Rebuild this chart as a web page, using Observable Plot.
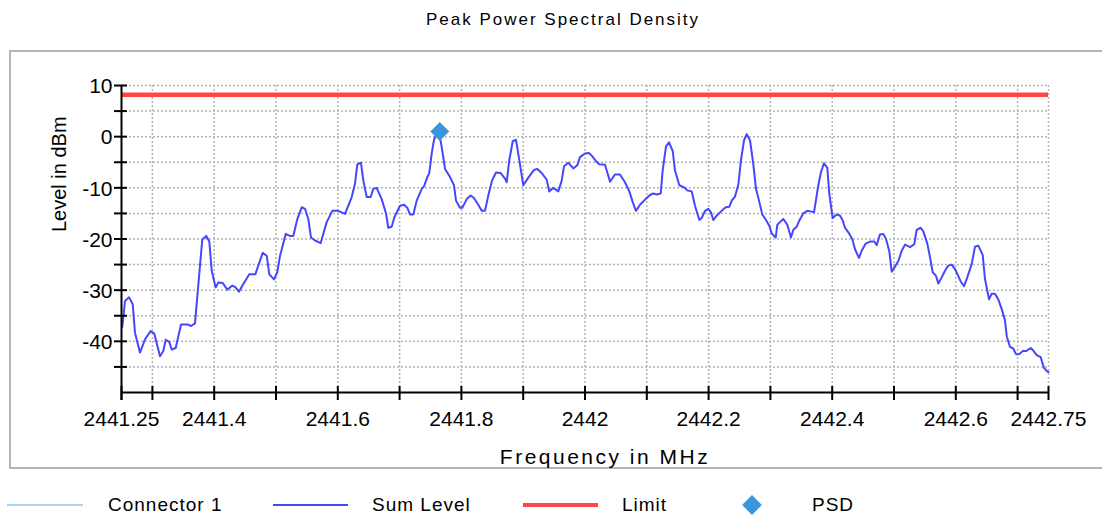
<!DOCTYPE html>
<html>
<head>
<meta charset="utf-8">
<script src="https://cdn.jsdelivr.net/npm/d3@7"></script>
<script src="https://cdn.jsdelivr.net/npm/@observablehq/plot@0.6"></script>
<style>
  html, body { margin: 0; padding: 0; background: #fff; }
  body { width: 1102px; height: 516px; position: relative; overflow: hidden;
         font-family: "Liberation Sans", Arial, sans-serif; color: #000; }
  #title { position: absolute; top: 9px; left: 24px; width: 1078px; text-align: center;
           font-size: 17px; letter-spacing: 2px; line-height: 22px; }
  #frame { position: absolute; left: 9px; top: 50px; width: 1200px; height: 419px;
           border: 2px solid #b4b4b4; box-sizing: border-box; }
  #chart { position: absolute; left: 0; top: 53px; }
  .lg-line { position: absolute; }
  .lg-text { position: absolute; top: 495px; font-size: 19px; line-height: 20px; letter-spacing: 1px; white-space: nowrap; }
  .lg-diamond { position: absolute; left: 745px; top: 498px; width: 14px; height: 14px;
                background: #3a96dc; transform: rotate(45deg); }
</style>
</head>
<body>
<div id="title">Peak Power Spectral Density</div>
<div id="frame"></div>
<div id="chart"></div>

<div class="lg-line" style="left:7px;top:504px;width:76px;height:2px;background:#a8d4f4"></div>
<div class="lg-text" style="left:108px">Connector 1</div>
<div class="lg-line" style="left:273px;top:504px;width:75px;height:2px;background:#4646ff"></div>
<div class="lg-text" style="left:372px">Sum Level</div>
<div class="lg-line" style="left:523px;top:503px;width:75px;height:4px;background:#ff4545"></div>
<div class="lg-text" style="left:622px">Limit</div>
<div class="lg-diamond"></div>
<div class="lg-text" style="left:812px">PSD</div>

<script>
// Frequency in MHz
const freq = [
  2441.2513, 2441.2557, 2441.2621, 2441.2681, 2441.2718, 2441.2799, 2441.2880, 2441.2972, 2441.3031, 2441.3123,
  2441.3176, 2441.3215, 2441.3273, 2441.3312, 2441.3377, 2441.3463, 2441.3571, 2441.3625, 2441.3689, 2441.3807,
  2441.3872, 2441.3921, 2441.3960, 2441.4024, 2441.4066, 2441.4138, 2441.4212, 2441.4293, 2441.4341, 2441.4401,
  2441.4471, 2441.4568, 2441.4665, 2441.4785, 2441.4850, 2441.4892, 2441.4968, 2441.5021, 2441.5065, 2441.5157,
  2441.5227, 2441.5280, 2441.5345, 2441.5416, 2441.5469, 2441.5523, 2441.5566, 2441.5631, 2441.5723, 2441.5820,
  2441.5911, 2441.6008, 2441.6117, 2441.6225, 2441.6278, 2441.6316, 2441.6375, 2441.6413, 2441.6468, 2441.6532,
  2441.6574, 2441.6629, 2441.6710, 2441.6780, 2441.6817, 2441.6872, 2441.6914, 2441.7006, 2441.7071, 2441.7125,
  2441.7168, 2441.7222, 2441.7277, 2441.7358, 2441.7395, 2441.7448, 2441.7481, 2441.7519, 2441.7557, 2441.7600,
  2441.7642, 2441.7681, 2441.7735, 2441.7816, 2441.7880, 2441.7913, 2441.7977, 2441.8015, 2441.8086, 2441.8150,
  2441.8204, 2441.8273, 2441.8329, 2441.8382, 2441.8435, 2441.8495, 2441.8560, 2441.8633, 2441.8706, 2441.8733,
  2441.8775, 2441.8830, 2441.8883, 2441.8937, 2441.9002, 2441.9083, 2441.9175, 2441.9228, 2441.9299, 2441.9380,
  2441.9422, 2441.9487, 2441.9568, 2441.9623, 2441.9660, 2441.9730, 2441.9811, 2441.9875, 2441.9919, 2442.0000,
  2442.0065, 2442.0108, 2442.0178, 2442.0231, 2442.0324, 2442.0405, 2442.0485, 2442.0566, 2442.0647, 2442.0717,
  2442.0772, 2442.0825, 2442.0890, 2442.0971, 2442.1052, 2442.1105, 2442.1160, 2442.1225, 2442.1257, 2442.1311,
  2442.1359, 2442.1419, 2442.1456, 2442.1526, 2442.1602, 2442.1655, 2442.1727, 2442.1780, 2442.1850, 2442.1888,
  2442.1942, 2442.1995, 2442.2039, 2442.2076, 2442.2141, 2442.2212, 2442.2277, 2442.2335, 2442.2374, 2442.2427,
  2442.2481, 2442.2524, 2442.2573, 2442.2617, 2442.2670, 2442.2723, 2442.2767, 2442.2816, 2442.2869, 2442.2929,
  2442.2982, 2442.3021, 2442.3086, 2442.3112, 2442.3155, 2442.3209, 2442.3273, 2442.3333, 2442.3371, 2442.3426,
  2442.3468, 2442.3532, 2442.3597, 2442.3652, 2442.3706, 2442.3775, 2442.3819, 2442.3867, 2442.3921, 2442.3953,
  2442.4008, 2442.4073, 2442.4126, 2442.4170, 2442.4207, 2442.4261, 2442.4325, 2442.4369, 2442.4434, 2442.4477,
  2442.4542, 2442.4612, 2442.4681, 2442.4720, 2442.4773, 2442.4827, 2442.4871, 2442.4924, 2442.4963, 2442.5016,
  2442.5070, 2442.5125, 2442.5178, 2442.5259, 2442.5328, 2442.5367, 2442.5432, 2442.5474, 2442.5539, 2442.5583,
  2442.5626, 2442.5680, 2442.5717, 2442.5772, 2442.5825, 2442.5879, 2442.5934, 2442.5987, 2442.6040, 2442.6079,
  2442.6133, 2442.6186, 2442.6257, 2442.6311, 2442.6364, 2442.6435, 2442.6472, 2442.6537, 2442.6581, 2442.6634,
  2442.6688, 2442.6743, 2442.6796, 2442.6824, 2442.6877, 2442.6930, 2442.6974, 2442.7028, 2442.7083, 2442.7136,
  2442.7212, 2442.7254, 2442.7309, 2442.7374, 2442.7427, 2442.7471, 2442.7500
];
// Sum Level in dBm
const level = [
  -37.2, -32.1, -31.4, -32.7, -38.3, -42.2, -39.6, -38.0, -38.5, -42.9,
  -41.9, -39.7, -40.1, -41.6, -41.3, -36.7, -36.7, -37.0, -36.5, -20.1,
  -19.4, -20.5, -26.2, -29.5, -28.5, -28.6, -29.9, -29.1, -29.4, -30.3,
  -28.8, -26.9, -26.9, -22.7, -23.3, -26.9, -27.9, -26.5, -23.3, -19.0,
  -19.4, -19.4, -16.1, -13.8, -14.1, -16.1, -19.7, -20.3, -20.8, -16.7,
  -14.5, -14.5, -15.1, -11.8, -9.2, -5.4, -5.1, -8.6, -11.8, -11.8,
  -10.2, -10.0, -12.2, -15.0, -17.8, -17.6, -15.8, -13.5, -13.3, -13.9,
  -15.2, -15.2, -12.5, -10.2, -9.7, -7.9, -7.1, -3.3, -0.6, 0.6,
  0.6, -2.0, -6.3, -7.9, -9.5, -12.5, -13.9, -13.9, -12.2, -11.5,
  -12.0, -13.3, -14.5, -14.5, -11.5, -8.6, -7.0, -7.1, -8.2, -8.9,
  -4.6, -0.9, -0.6, -4.6, -9.5, -8.0, -6.5, -6.3, -7.1, -8.4,
  -10.7, -10.0, -10.7, -8.6, -5.8, -5.1, -6.2, -5.6, -4.0, -3.3,
  -3.2, -3.7, -4.8, -5.4, -5.5, -8.8, -7.4, -7.4, -8.9, -10.7,
  -12.8, -14.5, -13.3, -12.3, -11.4, -11.1, -11.3, -11.1, -6.6, -1.9,
  -1.1, -2.8, -6.6, -9.5, -9.9, -10.5, -10.7, -13.5, -16.3, -15.9,
  -14.5, -14.1, -14.8, -16.3, -15.3, -14.5, -13.8, -13.7, -12.5, -11.7,
  -9.4, -4.6, -0.7, 0.5, -0.7, -5.3, -10.2, -12.5, -15.2, -16.3,
  -17.4, -18.9, -19.7, -17.2, -16.7, -16.1, -17.2, -19.7, -18.2, -17.6,
  -16.4, -15.0, -14.5, -14.6, -14.8, -9.5, -6.9, -5.2, -6.1, -11.2,
  -15.9, -15.2, -15.4, -16.4, -17.8, -18.7, -20.0, -22.0, -23.7, -22.3,
  -20.9, -20.5, -20.5, -21.2, -19.1, -19.0, -20.0, -22.4, -26.4, -25.4,
  -24.3, -22.3, -21.1, -21.6, -21.0, -18.2, -17.8, -18.5, -20.9, -23.6,
  -26.5, -27.2, -28.7, -27.5, -26.2, -25.2, -25.0, -25.9, -27.2, -28.3,
  -29.2, -27.5, -24.9, -21.5, -21.3, -23.1, -27.8, -31.8, -30.7, -30.7,
  -31.8, -33.7, -35.9, -39.0, -41.1, -41.4, -42.5, -42.5, -41.9, -41.9,
  -41.3, -41.8, -42.7, -43.1, -45.2, -45.8, -46.0
];
const limitLevel = [8.2];
const psdFreq = [2441.765];
const psdLevel = [1.0];

const xDomain = [2441.25, 2442.75];
const yDomain = [-50, 10];
const xTicks = [2441.25, 2441.3, 2441.4, 2441.5, 2441.6, 2441.7, 2441.8, 2441.9, 2442.0,
                2442.1, 2442.2, 2442.3, 2442.4, 2442.5, 2442.6, 2442.7, 2442.75];
const xGridTicks = [2441.3, 2441.4, 2441.5, 2441.6, 2441.7, 2441.8, 2441.9, 2442.0,
                    2442.1, 2442.2, 2442.3, 2442.4, 2442.5, 2442.6, 2442.7, 2442.75];
const xTickLabels = [2441.25, 2441.4, 2441.6, 2441.8, 2442, 2442.2, 2442.4, 2442.6, 2442.75];
const yTicks = [-45, -40, -35, -30, -25, -20, -15, -10, -5, 0, 5, 10];
const yTickLabels = [-40, -30, -20, -10, 0, 10];
const xLabel = "Frequency in MHz";
const yLabel = "Level in dBm";

const sumData = freq.map((f, i) => ({f, v: level[i]}));
const psdData = psdFreq.map((f, i) => ({f, v: psdLevel[i]}));

const gridStyle = {stroke: "#b4b4b4", strokeOpacity: 1, strokeWidth: 1.5, strokeDasharray: "2,2"};

const chart = Plot.plot({
  width: 1102,
  height: 415,
  marginLeft: 121,
  marginRight: 54,
  marginTop: 32,
  marginBottom: 76,
  x: {domain: xDomain},
  y: {domain: yDomain},
  style: {fontFamily: "'Liberation Sans', Arial, sans-serif", fontSize: "21px", color: "#000", background: "transparent", overflow: "visible"},
  marks: [
    Plot.gridX(xGridTicks, gridStyle),
    Plot.gridY(yTicks, gridStyle),
    Plot.ruleY(limitLevel, {stroke: "#ff4545", strokeWidth: 4.5}),
    Plot.line(sumData, {x: "f", y: "v", stroke: "#4646ff", strokeWidth: 2}),
    Plot.dot(psdData, {x: "f", y: "v", symbol: "diamond2", r: 8.5, fill: "#3a96dc", stroke: "none"}),
    Plot.ruleX([xDomain[0]], {stroke: "#000", strokeWidth: 2, insetBottom: -8}),
    Plot.ruleY([yDomain[0]], {stroke: "#000", strokeWidth: 2}),
    Plot.axisY(yTicks, {tickSize: 7, fill: "none", strokeWidth: 2, label: null}),
    Plot.axisY(yTicks, {tickSize: 6, dx: 6, fill: "none", strokeWidth: 2, label: null}),
    Plot.axisY(yTickLabels, {tickSize: 0, tickPadding: 9, dy: 1, fontSize: 21, label: null, tickFormat: d => String(d)}),
    Plot.axisX(xTicks, {tickSize: 8, fill: "none", strokeWidth: 2, label: null}),
    Plot.axisX(xTicks, {tickSize: 6, dy: -6, fill: "none", strokeWidth: 2, label: null}),
    Plot.axisX(xTickLabels, {tickSize: 0, tickPadding: 19, fontSize: 21, label: null, tickFormat: d => String(d)}),
    Plot.text([yLabel], {frameAnchor: "left", dx: -62, dy: -7, rotate: -90, fontSize: 20, lineAnchor: "middle"}),
    Plot.text([xLabel], {frameAnchor: "bottom", dx: 20, dy: 65, fontSize: 21, lineAnchor: "middle"})
  ]
});

d3.select(chart).selectAll("text").filter(function() { return this.textContent === xLabel; })
  .attr("letter-spacing", "2.5px");

document.getElementById("chart").appendChild(chart);
</script>
</body>
</html>
